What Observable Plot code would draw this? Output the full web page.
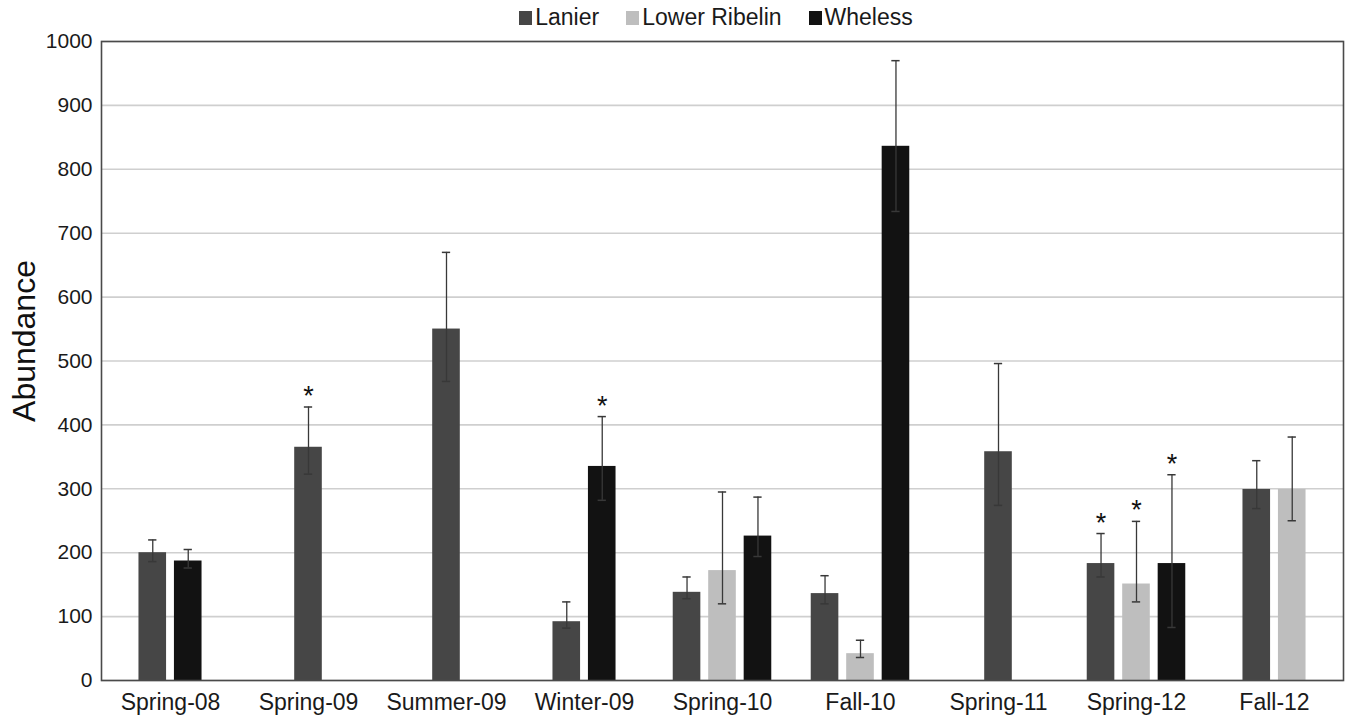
<!DOCTYPE html>
<html>
<head>
<meta charset="utf-8">
<script src="https://cdn.jsdelivr.net/npm/d3@7"></script>
<script src="https://cdn.jsdelivr.net/npm/@observablehq/plot@0.6"></script>
<style>
  html, body { margin: 0; padding: 0; background: #fff; }
  body { width: 1346px; height: 715px; overflow: hidden; font-family: "Liberation Sans", Arial, sans-serif; }
  #legend { height: 30px; display: flex; justify-content: center; align-items: center; gap: 27px; font-size: 23px; color: #1a1a1a; padding-left: 86px; padding-top: 5px; box-sizing: border-box; }
  #legend .item { display: flex; align-items: center; gap: 3px; }
  #legend .sw { width: 13px; height: 14px; display: inline-block; }
  #chart svg { display: block; }
</style>
</head>
<body>
<div id="legend"></div>
<div id="chart"></div>
<script>
const seasons = ["Spring-08", "Spring-09", "Summer-09", "Winter-09", "Spring-10", "Fall-10", "Spring-11", "Spring-12", "Fall-12"];
const seriesNames = ["Lanier", "Lower Ribelin", "Wheless"];
const seriesColors = ["#464646", "#bebebe", "#121212"];

const lanier    = [200, 365, 550,  92, 138, 136, 358, 183, 299];
const lanierHi  = [220, 428, 670, 123, 162, 164, 496, 230, 344];
const lanierLo  = [186, 323, 468,  82, 128, 120, 274, 162, 269];
const lanierSig = [false, true, false, false, false, false, false, true, false];

const ribelin    = [null, null, null, null, 172, 42, null, 151, 299];
const ribelinHi  = [null, null, null, null, 295, 63, null, 249, 381];
const ribelinLo  = [null, null, null, null, 120, 36, null, 123, 250];
const ribelinSig = [false, false, false, false, false, false, false, true, false];

const wheless    = [187, null, null, 335, 226, 836, null, 183, null];
const whelessHi  = [205, null, null, 413, 287, 970, null, 322, null];
const whelessLo  = [176, null, null, 282, 194, 734, null,  83, null];
const whelessSig = [false, false, false, true, false, false, false, true, false];

const yTicks = [0, 100, 200, 300, 400, 500, 600, 700, 800, 900, 1000];

// Build table
const seriesData = [
  {name: "Lanier", v: lanier, hi: lanierHi, lo: lanierLo, sig: lanierSig},
  {name: "Lower Ribelin", v: ribelin, hi: ribelinHi, lo: ribelinLo, sig: ribelinSig},
  {name: "Wheless", v: wheless, hi: whelessHi, lo: whelessLo, sig: whelessSig}
];
const STEP = 0.257, BARW = 0.2, CAP = 0.03;
const rows = [];
seasons.forEach((s, i) => {
  const present = seriesData.filter(sd => sd.v[i] != null);
  const n = present.length;
  present.forEach((sd, k) => {
    const c = i + 0.5 + (k - (n - 1) / 2) * STEP;
    rows.push({season: s, series: sd.name, value: sd.v[i], hi: sd.hi[i], lo: sd.lo[i], sig: sd.sig[i], c});
  });
});

// Legend
const leg = document.getElementById("legend");
seriesNames.forEach((n, i) => {
  const it = document.createElement("span");
  it.className = "item";
  it.innerHTML = `<span class="sw" style="background:${seriesColors[i]}"></span><span>${n}</span>`;
  leg.appendChild(it);
});

const chart = Plot.plot({
  width: 1346,
  height: 685,
  marginTop: 11,
  marginBottom: 35,
  marginLeft: 101,
  marginRight: 3,
  style: {fontFamily: '"Liberation Sans", Arial, sans-serif', color: "#1a1a1a", background: "#fff"},
  x: {domain: [0, seasons.length], axis: null, label: null},
  y: {domain: [0, 1000], axis: null, label: null},
  color: {domain: seriesNames, range: seriesColors},
  marks: [
    Plot.gridY(yTicks, {stroke: "#cfcfcf", strokeOpacity: 1, strokeWidth: 1.6}),
    Plot.rectY(rows, {x1: d => d.c - BARW / 2, x2: d => d.c + BARW / 2, y1: 0, y2: "value", fill: "series"}),
    Plot.ruleX(rows, {x: "c", y1: "lo", y2: "hi", stroke: "#383838", strokeWidth: 1.3}),
    Plot.ruleY(rows, {y: "hi", x1: d => d.c - CAP, x2: d => d.c + CAP, stroke: "#383838", strokeWidth: 1.5}),
    Plot.ruleY(rows, {y: "lo", x1: d => d.c - CAP, x2: d => d.c + CAP, stroke: "#383838", strokeWidth: 1.5}),
    Plot.text(rows.filter(d => d.sig), {x: "c", y: "hi", text: () => "*", fontSize: 27, lineAnchor: "bottom", dy: -2, fill: "#111"}),
    Plot.frame({stroke: "#4a4a4a", strokeWidth: 1.6}),
    Plot.axisY(yTicks, {tickSize: 0, tickPadding: 9, fontSize: 21, label: null, tickFormat: d => String(d)}),
    Plot.axisX(seasons.map((s, i) => i + 0.5), {tickSize: 0, tickPadding: 13, fontSize: 23, label: null, tickFormat: d => seasons[Math.floor(d)]}),
    Plot.text(["Abundance"], {frameAnchor: "left", textAnchor: "middle", dx: -77, dy: -20, rotate: -90, fontSize: 32, fill: "#111"})
  ]
});
document.getElementById("chart").appendChild(chart);
</script>
</body>
</html>
